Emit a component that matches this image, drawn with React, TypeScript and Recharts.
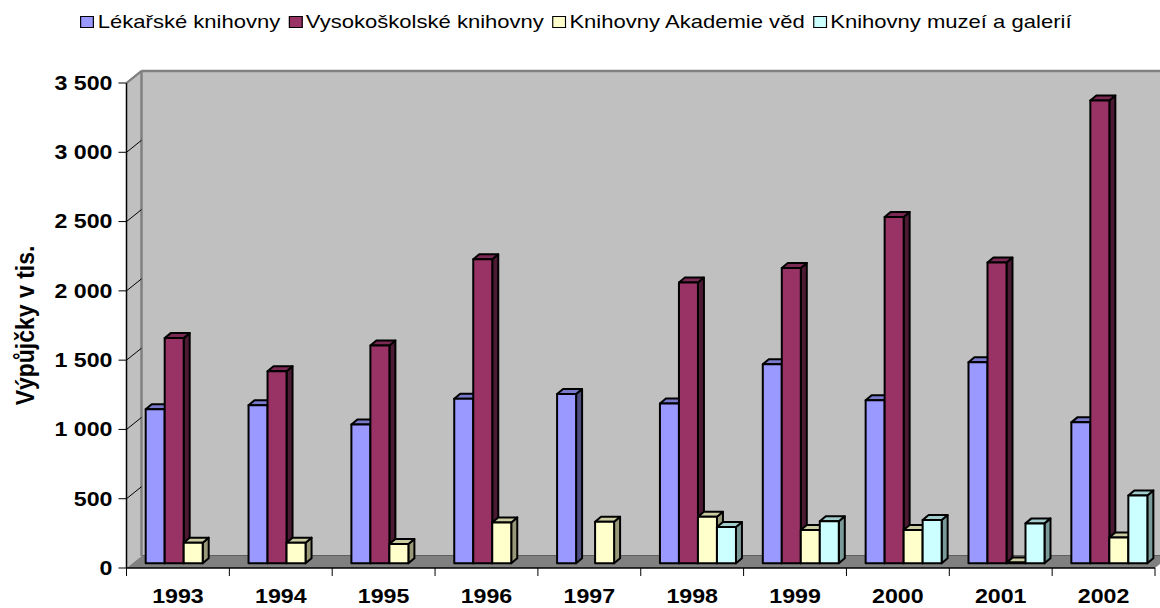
import React from 'react';
import { BarChart, Bar, XAxis, YAxis, CartesianGrid, Legend } from 'recharts';

// values (thousands of loans)
const years = ['1993', '1994', '1995', '1996', '1997', '1998', '1999', '2000', '2001', '2002'];
const lekarske = [1112, 1141, 1002, 1187, 1221, 1153, 1437, 1177, 1451, 1017];
const vysokoskolske = [1625, 1386, 1572, 2194, null, 2026, 2131, 2499, 2170, 3340];
const akademie = [149, 149, 139, 295, 300, 336, 240, 240, 5, 187];
const muzea = [null, null, null, null, null, 262, 303, 312, 288, 490];
const yTicks = [0, 500, 1000, 1500, 2000, 2500, 3000, 3500];

const series = [
  { key: 'lek', name: 'Lékařské knihovny', fill: '#9999FF', top: '#7A7ACC', side: '#4D4D80' },
  { key: 'vys', name: 'Vysokoškolské knihovny', fill: '#993366', top: '#7A2952', side: '#4D1A33' },
  { key: 'akad', name: 'Knihovny Akademie věd', fill: '#FFFFCC', top: '#CCCCA3', side: '#99997A' },
  { key: 'muz', name: 'Knihovny muzeí a galerií', fill: '#CCFFFF', top: '#A3CCCC', side: '#7A9999' },
];

const data = years.map((year, i) => ({
  year,
  lek: lekarske[i],
  vys: vysokoskolske[i],
  akad: akademie[i],
  muz: muzea[i],
}));

const W = 1160;
const H = 608;
const PLOT_LEFT = 126.5;
const PLOT_RIGHT = 1155;
const PLOT_TOP = 83;
const PLOT_BOTTOM = 568;
const LEGEND_H = 24;
const BAND = (PLOT_RIGHT - PLOT_LEFT) / years.length;
// fake 3d: back wall offset, bar plane offset, bar depth
const WALL_DX = 15;
const WALL_DY = 12;
const BAR_SHIFT_X = 5;
const BAR_SHIFT_Y = 4.7;
const BAR_DX = 6;
const BAR_DY = 5;
const STRETCH = 1.16;
const FONT = "'Liberation Sans', Arial, sans-serif";

const fmt = (v: number) => (v >= 1000 ? `${Math.floor(v / 1000)} ${String(v % 1000).padStart(3, '0')}` : String(v));

function Column3D(props: any) {
  const { x, y, width, height, fill, top, side } = props;
  if (x == null || y == null || !width) return null;
  const x0 = x + BAR_SHIFT_X;
  const y0 = y - BAR_SHIFT_Y;
  const h = Math.max(height, 0);
  const w = width;
  return (
    <g stroke="#000" strokeWidth={2} strokeLinejoin="round">
      <polygon
        points={`${x0 + w},${y0} ${x0 + w + BAR_DX},${y0 - BAR_DY} ${x0 + w + BAR_DX},${y0 + h - BAR_DY} ${x0 + w},${y0 + h}`}
        fill={side}
      />
      <polygon
        points={`${x0},${y0} ${x0 + BAR_DX},${y0 - BAR_DY} ${x0 + w + BAR_DX},${y0 - BAR_DY} ${x0 + w},${y0}`}
        fill={top}
      />
      <rect x={x0} y={y0} width={w} height={h} fill={fill} />
    </g>
  );
}

function ValueTick(props: any) {
  const { x, y, payload } = props;
  const v = payload.value;
  return (
    <g>
      {v > 0 && (
        <line
          x1={PLOT_LEFT}
          y1={y}
          x2={PLOT_LEFT + WALL_DX}
          y2={y - WALL_DY}
          stroke={v === 3500 ? '#808080' : '#000'}
          strokeWidth={v === 3500 ? 2 : 1}
        />
      )}
      <text
        transform={`translate(${x} ${y}) scale(${STRETCH} 1)`}
        textAnchor="end"
        dominantBaseline="central"
        fontFamily={FONT}
        fontWeight="bold"
        fontSize={20}
        fill="#000"
      >
        {fmt(v)}
      </text>
    </g>
  );
}

function YearTick(props: any) {
  const { x, payload, index } = props;
  const half = BAND / 2;
  return (
    <g>
      <line x1={x - half} x2={x - half} y1={PLOT_BOTTOM} y2={PLOT_BOTTOM + 8} stroke="#000" />
      {index === years.length - 1 && (
        <line x1={x + half} x2={x + half} y1={PLOT_BOTTOM} y2={PLOT_BOTTOM + 8} stroke="#000" />
      )}
      <text
        transform={`translate(${x} ${PLOT_BOTTOM + 28}) scale(${STRETCH} 1)`}
        textAnchor="middle"
        dominantBaseline="central"
        fontFamily={FONT}
        fontWeight="bold"
        fontSize={20}
        fill="#000"
      >
        {payload.value}
      </text>
    </g>
  );
}

function AxisTitle(props: any) {
  const vb = props.viewBox || {};
  const cy = (vb.y ?? PLOT_TOP) + (vb.height ?? PLOT_BOTTOM - PLOT_TOP) / 2;
  return (
    <text
      transform={`translate(24 ${cy}) scale(${STRETCH} 1) rotate(-90)`}
      textAnchor="middle"
      dominantBaseline="central"
      fontFamily={FONT}
      fontWeight="bold"
      fontSize={23}
      fill="#000"
    >
      Výpůjčky v tis.
    </text>
  );
}

function LegendBox() {
  return (
    <div
      style={{
        height: LEGEND_H,
        display: 'flex',
        justifyContent: 'center',
        alignItems: 'center',
        transform: `scaleX(${STRETCH})`,
        transformOrigin: 'center',
        fontFamily: FONT,
        fontSize: 19,
        color: '#000',
        whiteSpace: 'nowrap',
      }}
    >
      {series.map((s) => (
        <span key={s.key} style={{ display: 'flex', alignItems: 'center', marginRight: 7 }}>
          <span
            style={{
              width: 12,
              height: 12,
              boxSizing: 'border-box',
              border: '1.5px solid #000',
              background: s.fill,
              marginRight: 3,
            }}
          />
          {s.name}
        </span>
      ))}
    </div>
  );
}

function Floor() {
  const bl = PLOT_LEFT + WALL_DX;
  const bt = PLOT_TOP - WALL_DY;
  const bb = PLOT_BOTTOM - WALL_DY;
  return (
    <svg width={W} height={H} style={{ position: 'absolute', left: 0, top: 0 }}>
      <polygon points={`${PLOT_LEFT},${PLOT_TOP} ${bl},${bt} ${bl},${bb} ${PLOT_LEFT},${PLOT_BOTTOM}`} fill="#C0C0C0" />
      <line x1={PLOT_LEFT} y1={PLOT_TOP} x2={bl} y2={bt} stroke="#808080" strokeWidth={2} />
      <line x1={bl} y1={bt} x2={W} y2={bt} stroke="#808080" strokeWidth={2.5} />
      <line x1={bl} y1={bt} x2={bl} y2={bb} stroke="#808080" strokeWidth={2.5} />
      <polygon
        points={`${PLOT_LEFT},${PLOT_BOTTOM} ${PLOT_RIGHT},${PLOT_BOTTOM} ${PLOT_RIGHT + WALL_DX},${bb} ${bl},${bb}`}
        fill="#808080"
      />
    </svg>
  );
}

export default function App() {
  return (
    <div style={{ position: 'absolute', left: 0, top: 0, width: W, height: H, background: '#fff', overflow: 'hidden' }}>
      {/* back wall */}
      <div style={{ position: 'absolute', left: WALL_DX, top: -WALL_DY }}>
        <BarChart
          width={W}
          height={H}
          data={data}
          margin={{ top: PLOT_TOP, right: W - PLOT_RIGHT, bottom: H - PLOT_BOTTOM, left: PLOT_LEFT }}
        >
          <XAxis dataKey="year" hide />
          <YAxis hide domain={[0, 3500]} ticks={yTicks} />
          <CartesianGrid vertical={false} fill="#C0C0C0" fillOpacity={1} stroke="#000" strokeWidth={1} />
        </BarChart>
      </div>
      <Floor />
      <div style={{ position: 'absolute', left: 0, top: 0 }}>
        <BarChart
          width={W}
          height={H}
          data={data}
          barCategoryGap="13.8%"
          barGap={0}
          margin={{ top: PLOT_TOP - LEGEND_H, right: W - PLOT_RIGHT, bottom: 0, left: 0 }}
        >
          <Legend
            verticalAlign="top"
            height={LEGEND_H}
            content={<LegendBox />}
            wrapperStyle={{ top: 10, left: 0, width: W }}
          />
          <XAxis
            dataKey="year"
            height={H - PLOT_BOTTOM}
            axisLine={{ stroke: '#000', strokeWidth: 1.5 }}
            tickLine={false}
            tick={<YearTick />}
            interval={0}
          />
          <YAxis
            width={PLOT_LEFT}
            domain={[0, 3500]}
            ticks={yTicks}
            axisLine={{ stroke: '#000', strokeWidth: 1.5 }}
            tickLine={{ stroke: '#000' }}
            tickSize={8}
            tickMargin={6}
            tick={<ValueTick />}
            label={{ content: <AxisTitle /> }}
          />
          {series.map((s) => (
            <Bar
              key={s.key}
              dataKey={s.key}
              name={s.name}
              fill={s.fill}
              isAnimationActive={false}
              shape={(p: any) => <Column3D {...p} top={s.top} side={s.side} />}
            />
          ))}
        </BarChart>
      </div>
    </div>
  );
}
